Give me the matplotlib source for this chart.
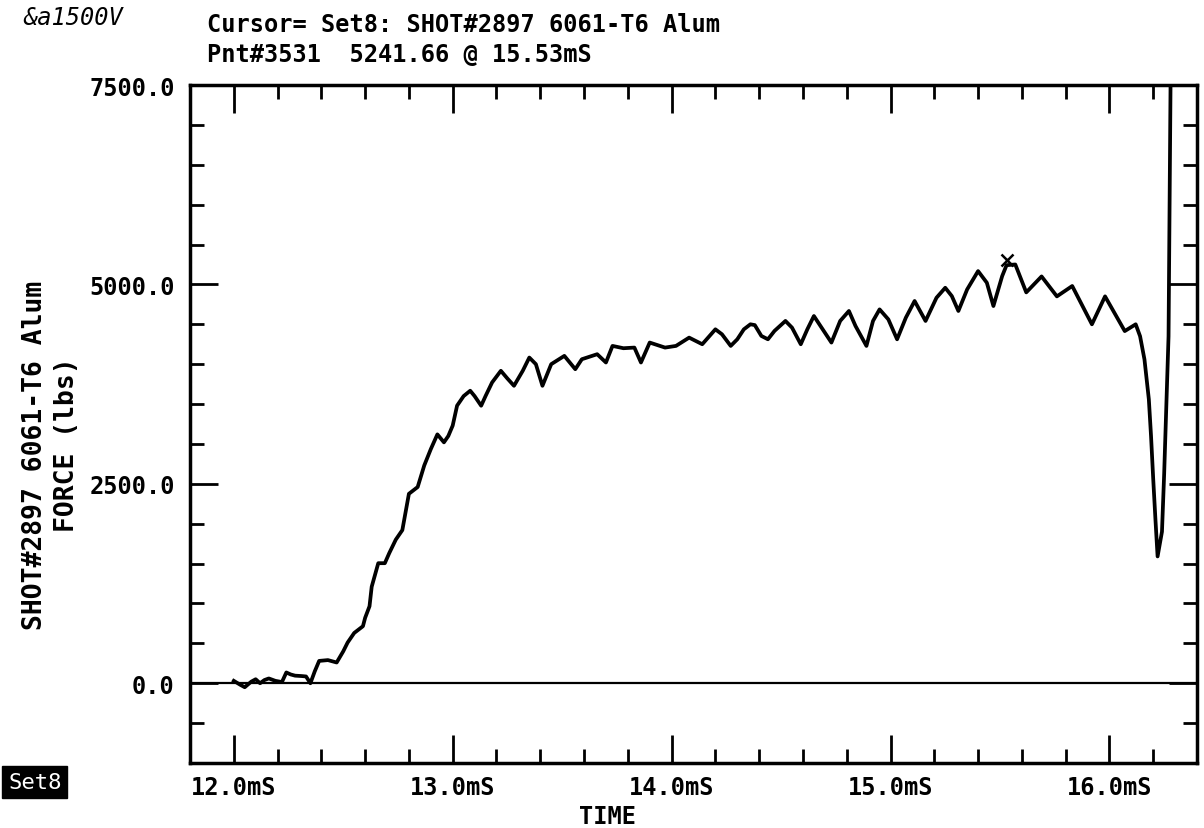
import matplotlib
matplotlib.use("Agg")
import matplotlib.pyplot as plt
from matplotlib.ticker import MultipleLocator, FuncFormatter

# force trace (time in mS, force in lbs)
time_ms = [12.00, 12.03, 12.05, 12.08, 12.10, 12.12, 12.14, 12.16, 12.19, 12.22,
           12.24, 12.26, 12.28, 12.31, 12.33, 12.35, 12.37, 12.39, 12.43, 12.47,
           12.50, 12.52, 12.55, 12.59, 12.60, 12.62, 12.63, 12.66, 12.69, 12.71,
           12.74, 12.77, 12.80, 12.84, 12.87, 12.90, 12.93, 12.96, 12.98, 13.00,
           13.02, 13.05, 13.08, 13.10, 13.13, 13.15, 13.18, 13.22, 13.25, 13.28,
           13.32, 13.35, 13.38, 13.41, 13.45, 13.51, 13.56, 13.59, 13.66, 13.70,
           13.73, 13.78, 13.83, 13.86, 13.90, 13.97, 14.02, 14.08, 14.14, 14.20,
           14.23, 14.27, 14.30, 14.33, 14.36, 14.38, 14.41, 14.44, 14.47, 14.52,
           14.55, 14.59, 14.62, 14.65, 14.68, 14.73, 14.77, 14.81, 14.84, 14.89,
           14.92, 14.95, 14.99, 15.03, 15.07, 15.11, 15.16, 15.21, 15.25, 15.28,
           15.31, 15.35, 15.40, 15.44, 15.47, 15.51, 15.53, 15.57, 15.62, 15.69,
           15.76, 15.83, 15.92, 15.98, 16.07, 16.12, 16.14, 16.16, 16.18, 16.19,
           16.20, 16.21, 16.22, 16.24, 16.25, 16.27, 16.28]
force_lbs = [30, -20, -50, 20, 50, 0, 40, 60, 30, 15,
             135, 110, 95, 90, 85, 0, 150, 280, 290, 260,
             400, 510, 630, 715, 820, 965, 1210, 1505, 1505, 1630,
             1800, 1920, 2375, 2460, 2730, 2935, 3120, 3020, 3100, 3230,
             3480, 3600, 3667, 3600, 3479, 3600, 3771, 3917, 3820, 3729,
             3917, 4083, 4000, 3729, 4000, 4104, 3937, 4062, 4125, 4021,
             4229, 4200, 4208, 4021, 4271, 4208, 4229, 4333, 4250, 4437,
             4375, 4229, 4312, 4437, 4500, 4490, 4354, 4312, 4417, 4542,
             4458, 4250, 4437, 4604, 4479, 4271, 4542, 4667, 4479, 4229,
             4542, 4687, 4562, 4312, 4583, 4792, 4542, 4833, 4958, 4854,
             4667, 4937, 5167, 5021, 4729, 5104, 5241, 5250, 4900, 5100,
             4850, 4980, 4500, 4850, 4415, 4500, 4350, 4060, 3560, 3100,
             2560, 2060, 1590, 1900, 2625, 4350, 7800]

cursor_t = 15.53
cursor_v = 5241.66

W, H = 1204, 829
plt.rcParams['font.family'] = ['DejaVu Sans Mono']
plt.rcParams['font.weight'] = 'bold'

def fx(px):
    return px / W

def fy(py):
    return 1 - py / H

fig = plt.figure(figsize=(W / 100, H / 100), dpi=100)
ax = fig.add_axes([fx(190), fy(764), (1197 - 190) / W, (764 - 86) / H])

ax.plot(time_ms, force_lbs, color='black', lw=2.7, solid_joinstyle='round')
ax.axhline(0, color='black', lw=1.6)
ax.plot([cursor_t], [cursor_v + 60], marker='x', ms=9, mew=1.8, color='black')

ax.set_xlim(11.8, 16.4)
ax.set_ylim(-1000, 7500)
ax.xaxis.set_major_locator(MultipleLocator(1.0))
ax.xaxis.set_minor_locator(MultipleLocator(0.2))
ax.yaxis.set_major_locator(MultipleLocator(2500))
ax.yaxis.set_minor_locator(MultipleLocator(500))
ax.xaxis.set_major_formatter(FuncFormatter(lambda v, p: "%.1fmS" % v))
ax.yaxis.set_major_formatter(FuncFormatter(lambda v, p: "%.1f" % v))

ax.tick_params(which='both', direction='in', top=True, right=True,
               width=2, labelsize=17)
ax.tick_params(which='major', length=20)
ax.tick_params(which='minor', length=10)
ax.tick_params(axis='y', pad=11)
ax.tick_params(axis='x', pad=9)
for s in ax.spines.values():
    s.set_linewidth(2.5)

# header / labels
fig.text(fx(23), fy(18), "&a1500V", fontsize=17, style='italic',
         weight='normal', va='center', ha='left')
fig.text(fx(207), fy(25), "Cursor= Set8: SHOT#2897 6061-T6 Alum",
         fontsize=17, va='center', ha='left')
fig.text(fx(207), fy(55), "Pnt#3531  5241.66 @ 15.53mS",
         fontsize=17, va='center', ha='left')
fig.text(fx(35), fy(455), "SHOT#2897 6061-T6 Alum", fontsize=19,
         rotation=90, va='center', ha='center')
fig.text(fx(67), fy(445), "FORCE (lbs)", fontsize=19,
         rotation=90, va='center', ha='center')
fig.text(fx(608), fy(817), "TIME", fontsize=17, va='center', ha='center')
fig.text(fx(8), fy(783), "Set8", fontsize=16, weight='normal', color='white',
         va='center', ha='left',
         bbox=dict(facecolor='black', edgecolor='black', pad=4))

fig.savefig("out.png", dpi=100)
